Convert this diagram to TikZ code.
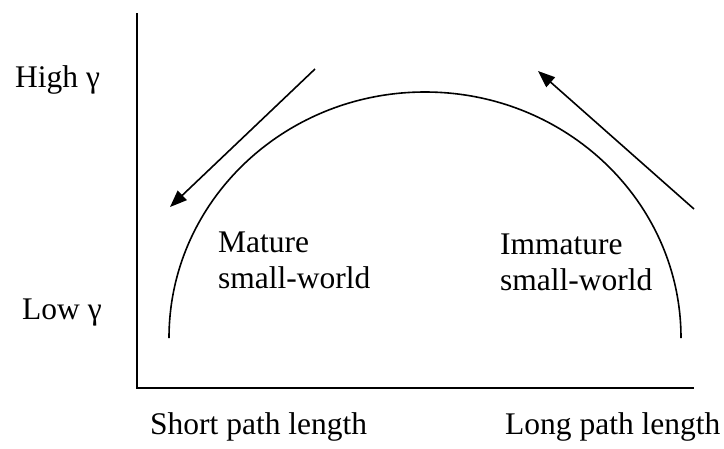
\documentclass[tikz,border=0pt]{standalone}
\usepackage{fontspec}
\setmainfont{Liberation Serif}
\usetikzlibrary{arrows.meta}
\begin{document}
\begin{tikzpicture}[x=1pt,y=-1pt,
  lbl/.style={inner sep=0pt,anchor=base west,font=\fontsize{31.5}{36}\selectfont},
  blk/.style={inner sep=0pt,anchor=north west,align=left,font=\fontsize{31.5}{36}\selectfont},
  axis/.style={line width=2pt},
  curve/.style={line width=1.6pt},
  trend/.style={line width=1.6pt,-{Triangle[length=17pt,width=13pt]}}]
\useasboundingbox (0,0) rectangle (724,448);
% axes
\coordinate (top) at (137,13);
\coordinate (origin) at (137,388);
\coordinate (xend) at (694,388);
\draw[axis] (top) -- (origin) -- (xend);
% arc
\coordinate (arcL) at (169,338);
\draw[curve] (arcL) arc[start angle=180,end angle=360,x radius=256,y radius=246];
% arrows
\coordinate (a1s) at (315,69);
\coordinate (a1e) at (170,207);
\draw[trend] (a1s) -- (a1e);
\coordinate (a2s) at (694,209);
\coordinate (a2e) at (538,71);
\draw[trend] (a2s) -- (a2e);
% labels
\node[lbl] (high) at (15,87) {High γ};
\node[lbl] (low) at (22,319) {Low γ};
\node[blk] (mature) at (218,232) {Mature\\small-world};
\node[blk] (immature) at (500,234) {Immature\\small-world};
\node[lbl] (short) at (150,434) {Short path length};
\node[lbl] (long) at (505,434) {Long path length};
\end{tikzpicture}
\end{document}
